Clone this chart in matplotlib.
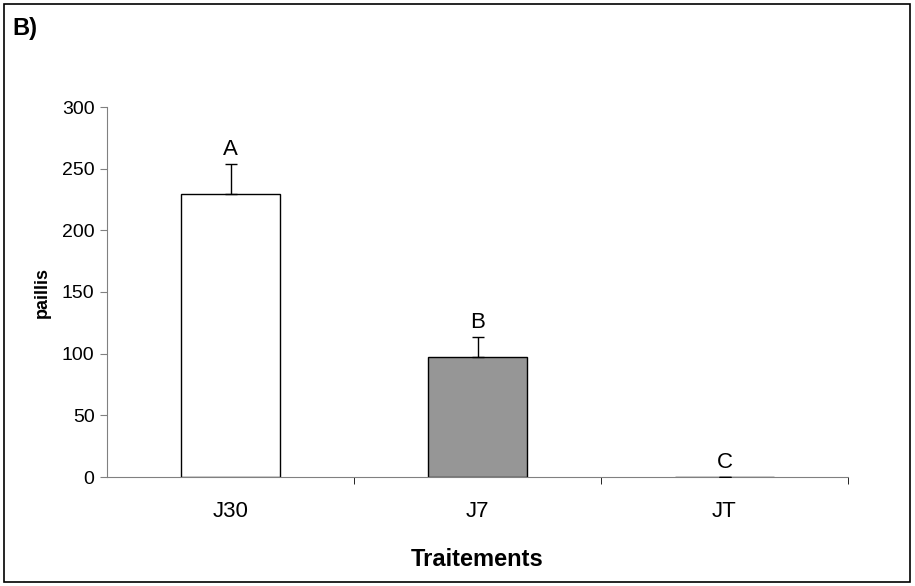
import matplotlib.pyplot as plt
import numpy as np
from matplotlib.patches import Rectangle

plt.rcParams['font.family'] = ['Liberation Sans', 'DejaVu Sans']

traitements = ['J30', 'J7', 'JT']
paillis = [229.5, 97.3, 0.0]
erreur = [24.5, 16.0, 0.0]
lettres = ['A', 'B', 'C']
couleurs = ['white', '#969696', 'white']

fig = plt.figure(figsize=(9.15, 5.86), dpi=100)
ax = fig.add_axes([107 / 915, 1 - 477 / 586, (848 - 107) / 915, (477 - 107) / 586])

x = np.arange(len(traitements))
ax.bar(x, paillis, width=0.4, color=couleurs, edgecolor='black', linewidth=1,
       zorder=2)
ax.errorbar(x, paillis, yerr=[np.zeros(len(erreur)), erreur], fmt='none',
            ecolor='black', elinewidth=1, capsize=4.3, capthick=1, zorder=3)
for xi, v, e, l in zip(x, paillis, erreur, lettres):
    ax.annotate(l, (xi, v + e), xytext=(0, 3), textcoords='offset points',
                ha='center', va='bottom', fontsize=16)

ax.set_xlim(-0.5, 2.5)
ax.set_ylim(0, 300)
ax.set_yticks(np.arange(0, 301, 50))
ax.set_xticks(x)
ax.set_xticklabels(traitements, fontsize=16)
ax.set_xticks([0.5, 1.5, 2.5], minor=True)
ax.tick_params(axis='x', which='major', length=0, pad=17)
ax.tick_params(axis='x', which='minor', length=5, color='black')
ax.tick_params(axis='y', labelsize=14, length=5, pad=4, color='#808080')
for s in ['top', 'right']:
    ax.spines[s].set_visible(False)
for s in ['left', 'bottom']:
    ax.spines[s].set_color('#808080')
ax.set_xlabel('Traitements', fontsize=17, fontweight='bold', labelpad=19)
ax.set_ylabel('paillis', fontsize=13, fontweight='bold', labelpad=8)

fig.text(12 / 915, 1 - 28 / 586, 'B)', fontsize=17, fontweight='bold',
         ha='left', va='center')
fig.patches.append(Rectangle((4 / 915, 4 / 586), 906 / 915, 578 / 586,
                             transform=fig.transFigure, fill=False,
                             edgecolor='black', linewidth=1.2))

fig.savefig('out.png', dpi=100)
